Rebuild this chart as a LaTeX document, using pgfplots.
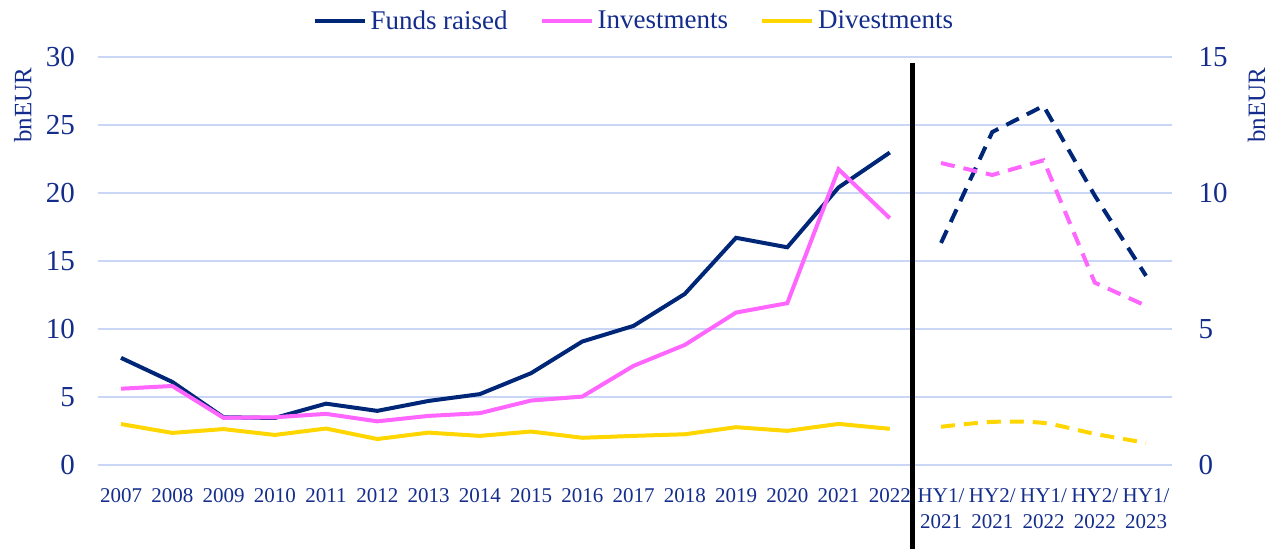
\documentclass[border=0pt]{standalone}
\usepackage{pgfplots}
\pgfplotsset{compat=1.18}
\usepackage{fontspec}
\setmainfont{Liberation Serif}
\definecolor{navy}{RGB}{0,38,120}
\definecolor{txt}{RGB}{20,45,140}
\definecolor{pinkc}{RGB}{255,102,255}
\definecolor{yel}{RGB}{255,214,0}
\definecolor{gridc}{RGB}{201,214,246}
\pgfplotsset{
  base/.style={
    scale only axis, width=537pt, height=204pt,
    xmin=-0.45, xmax=20.5,
    axis line style={draw=none},
    major tick length=0pt,
    tick label style={text=txt},
    label style={text=txt, font=\fontsize{12.5}{14}\selectfont},
    /pgf/number format/assume math mode=true,
    clip=false,
  }
}
\begin{document}
\begin{tikzpicture}
\begin{axis}[base,
  ymin=0, ymax=30, ytick={0,5,...,30},
  ymajorgrids, grid style={gridc, line width=0.8pt},
  xtick={0,...,20},
  xticklabels={2007,2008,2009,2010,2011,2012,2013,2014,2015,2016,2017,2018,2019,2020,2021,2022,{HY1/\\2021},{HY2/\\2021},{HY1/\\2022},{HY2/\\2022},{HY1/\\2023}},
  yticklabel style={font=\fontsize{14.5}{16}\selectfont, xshift=-8pt},
  xticklabel style={font=\fontsize{10.5}{13}\selectfont, align=center, anchor=north, yshift=-8.5pt},
  ylabel={bnEUR},
  ylabel style={at={(axis description cs:-0.07,0.882)}, anchor=center},
  legend columns=3,
  legend style={at={(0.5,1.04)}, anchor=south, draw=none, fill=none,
    font=\fontsize{13.5}{15}\selectfont, text=txt,
    /tikz/every even column/.append style={column sep=14pt}},
  legend image code/.code={\draw[#1, solid] (0pt,0pt) -- (25pt,0pt);},
]
\addplot[navy, line width=2pt] coordinates {
(0,7.87)(1,6.1)(2,3.5)(3,3.45)(4,4.5)(5,3.97)(6,4.7)(7,5.2)(8,6.74)(9,9.07)(10,10.22)(11,12.57)(12,16.7)(13,16.0)(14,20.4)(15,22.97)};
\addlegendentry{Funds raised}
\addplot[pinkc, line width=2pt] coordinates {
(0,5.6)(1,5.8)(2,3.46)(3,3.5)(4,3.75)(5,3.2)(6,3.6)(7,3.8)(8,4.73)(9,5.02)(10,7.28)(11,8.82)(12,11.2)(13,11.89)(14,21.74)(15,18.14)};
\addlegendentry{Investments}
\addplot[yel, line width=2pt] coordinates {
(0,3.0)(1,2.35)(2,2.63)(3,2.2)(4,2.67)(5,1.9)(6,2.37)(7,2.13)(8,2.45)(9,1.99)(10,2.13)(11,2.25)(12,2.77)(13,2.5)(14,3.01)(15,2.65)};
\addlegendentry{Divestments}
\draw[black, line width=2.6pt] (axis cs:15.44,29.56) -- (axis cs:15.44,-6.18);
\path (axis cs:-2.361,-6.18) rectangle (axis cs:22.497,34.19);
\end{axis}
\begin{axis}[base,
  ymin=0, ymax=15, ytick={0,5,10,15},
  axis y line*=right, axis x line=none,
  yticklabel style={font=\fontsize{14.5}{16}\selectfont, xshift=10pt},
  ylabel={bnEUR},
  ylabel style={at={(axis description cs:1.079,0.882)}, anchor=center},
]
\addplot[navy, line width=2pt, dash pattern=on 7pt off 4.5pt] coordinates {
(16,8.16)(17,12.24)(18,13.2)(19,9.9)(20,6.95)};
\addplot[pinkc, line width=2pt, dash pattern=on 7pt off 4.5pt] coordinates {
(16,11.1)(17,10.66)(18,11.2)(19,6.7)(20,5.85)};
\addplot[yel, line width=2pt, dash pattern=on 7pt off 4.5pt, smooth] coordinates {
(16,1.40)(17,1.58)(18,1.54)(19,1.14)(20,0.81)};
\end{axis}
\end{tikzpicture}
\end{document}
